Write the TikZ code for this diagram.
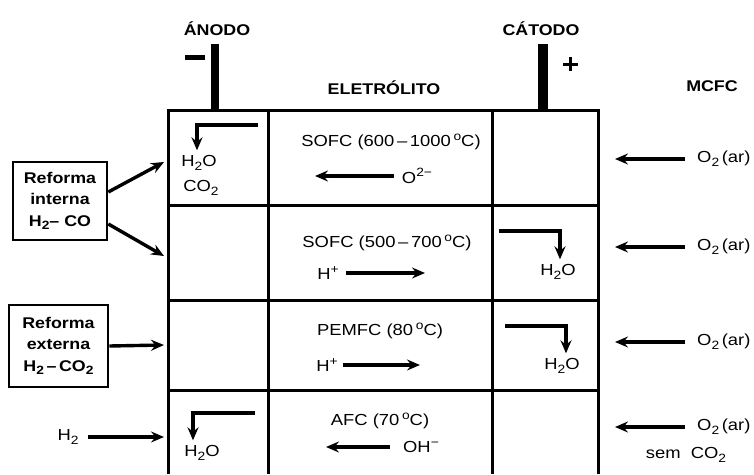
\documentclass[tikz,border=0pt]{standalone}
\usepackage{fontspec}
\setmainfont{Liberation Sans}[FakeStretch=1.15]
\usetikzlibrary{arrows.meta,positioning}
\newcommand{\desce}[1]{\raisebox{-0.45ex}{\fontsize{12}{12}\selectfont #1}}
\newcommand{\sobe}[1]{\raisebox{0.75ex}{\fontsize{12}{12}\selectfont #1}}

\begin{document}
\begin{tikzpicture}[x=1pt,y=-1pt,
    seta/.style={-{Stealth[length=13pt,width=11pt,inset=4.5pt]},line width=3.4pt},
    grade/.style={line width=3pt},
    texto/.style={font=\fontsize{16}{21}\selectfont,inner sep=0pt},
    titulo/.style={font=\fontsize{15.5}{18}\selectfont\bfseries,inner sep=0pt},
    caixa/.style={draw,line width=2.6pt,align=center,inner sep=0pt,
      font=\fontsize{15.5}{21.5}\selectfont\bfseries}]
  \useasboundingbox (0,0) rectangle (754,474);

  % grade da celula
  \draw[grade] (168,474) -- (168,110) -- (598,110) -- (598,474);
  \foreach \y in {205,300,390}
    \draw[grade] (168,\y) -- (598,\y);
  \foreach \x in {268,492}
    \draw[grade] (\x,110) -- (\x,474);

  % eletrodos
  \node[titulo] (anodo) at (217,29) {ÁNODO};
  \node[titulo] (catodo) at (541,29) {CÁTODO};
  \node[titulo] (eletrolito) at (384,88) {ELETRÓLITO};
  \node[titulo] (mcfc) at (712,86) {MCFC};
  \fill (211,44) rectangle (219,111);
  \fill (538,44) rectangle (548,111);
  \fill (185,55) rectangle (205,59.5);
  \draw[line width=3pt] (563,64) -- (578,64) (570.5,57) -- (570.5,71);

  % combustivel (lado do anodo)
  \node[caixa,minimum width=94pt,minimum height=78pt] (interna) at (60,201)
    {Reforma\\interna\\H\desce{2}– CO};
  \node[caixa,minimum width=99pt,minimum height=82pt] (externa) at (58.5,346)
    {Reforma\\externa\\H\desce{2}\,–\,CO\desce{2}};
  \node[texto] (hidrogenio) at (68,437) {H\desce{2}};
  \coordinate (entrada1) at (164,162);
  \coordinate (entrada2) at (164,256);
  \coordinate (entrada3) at (164,345);
  \coordinate (entrada4) at (164,437);
  \draw[seta] ([yshift=9pt]interna.east) -- (entrada1);
  \draw[seta] ([yshift=-23pt]interna.east) -- (entrada2);
  \draw[seta] (externa.east) -- (entrada3);
  \draw[seta] ([xshift=9pt]hidrogenio.east) -- (entrada4);

  % produtos no anodo
  \node[texto] (agua1) at (199,163) {H\desce{2}O};
  \node[texto] (co2) at (201,188) {CO\desce{2}};
  \node[texto] (agua4) at (202,453) {H\desce{2}O};
  \draw[seta] (258,125) -| ([yshift=5pt]agua1.north -| 197,0);
  \draw[seta] (255,413) -| ([yshift=5pt]agua4.north -| 193,0);

  % eletrolito
  \node[texto] (sofc1) at (391,142) {SOFC (600\,–\,1000\,\sobe{o}C)};
  \node[texto] (ion1) at (417,176) {O\sobe{2−}};
  \coordinate (fim1) at (315,176);
  \draw[seta] ([xshift=-8pt]ion1.west) -- (fim1);

  \node[texto] (sofc2) at (387,243) {SOFC (500\,–\,700\,\sobe{o}C)};
  \node[texto] (ion2) at (328,273) {H\sobe{+}};
  \coordinate (fim2) at (425,273);
  \draw[seta] ([xshift=7pt]ion2.east) -- (fim2);

  \node[texto] (pemfc) at (380,331) {PEMFC (80\,\sobe{o}C)};
  \node[texto] (ion3) at (327,365) {H\sobe{+}};
  \coordinate (fim3) at (420,365);
  \draw[seta] ([xshift=5pt]ion3.east) -- (fim3);

  \node[texto] (afc) at (380,421) {AFC (70\,\sobe{o}C)};
  \node[texto] (ion4) at (421,447) {OH\sobe{−}};
  \coordinate (fim4) at (326,447);
  \draw[seta] ([xshift=-13pt]ion4.west) -- (fim4);

  % produtos no catodo
  \node[texto] (agua2) at (558,272) {H\desce{2}O};
  \node[texto] (agua3) at (562,366) {H\desce{2}O};
  \draw[seta] (499,231) -| ([yshift=5pt]agua2.north -| 560,0);
  \draw[seta] (505,326) -| ([yshift=5pt]agua3.north -| 566,0);

  % oxidante (lado do catodo)
  \foreach \n/\y in {1/159,2/247,3/342,4/427}{
    \node[texto,anchor=west] (ar\n) at (697,\y) {O\desce{2}\,(ar)};
    \coordinate (saida\n) at (615,\y);
    \draw[seta] ([xshift=-12pt]ar\n.west) -- (saida\n);
  }
  \node[texto] (semco2) at (686,455) {sem\ \ CO\desce{2}};
\end{tikzpicture}
\end{document}
